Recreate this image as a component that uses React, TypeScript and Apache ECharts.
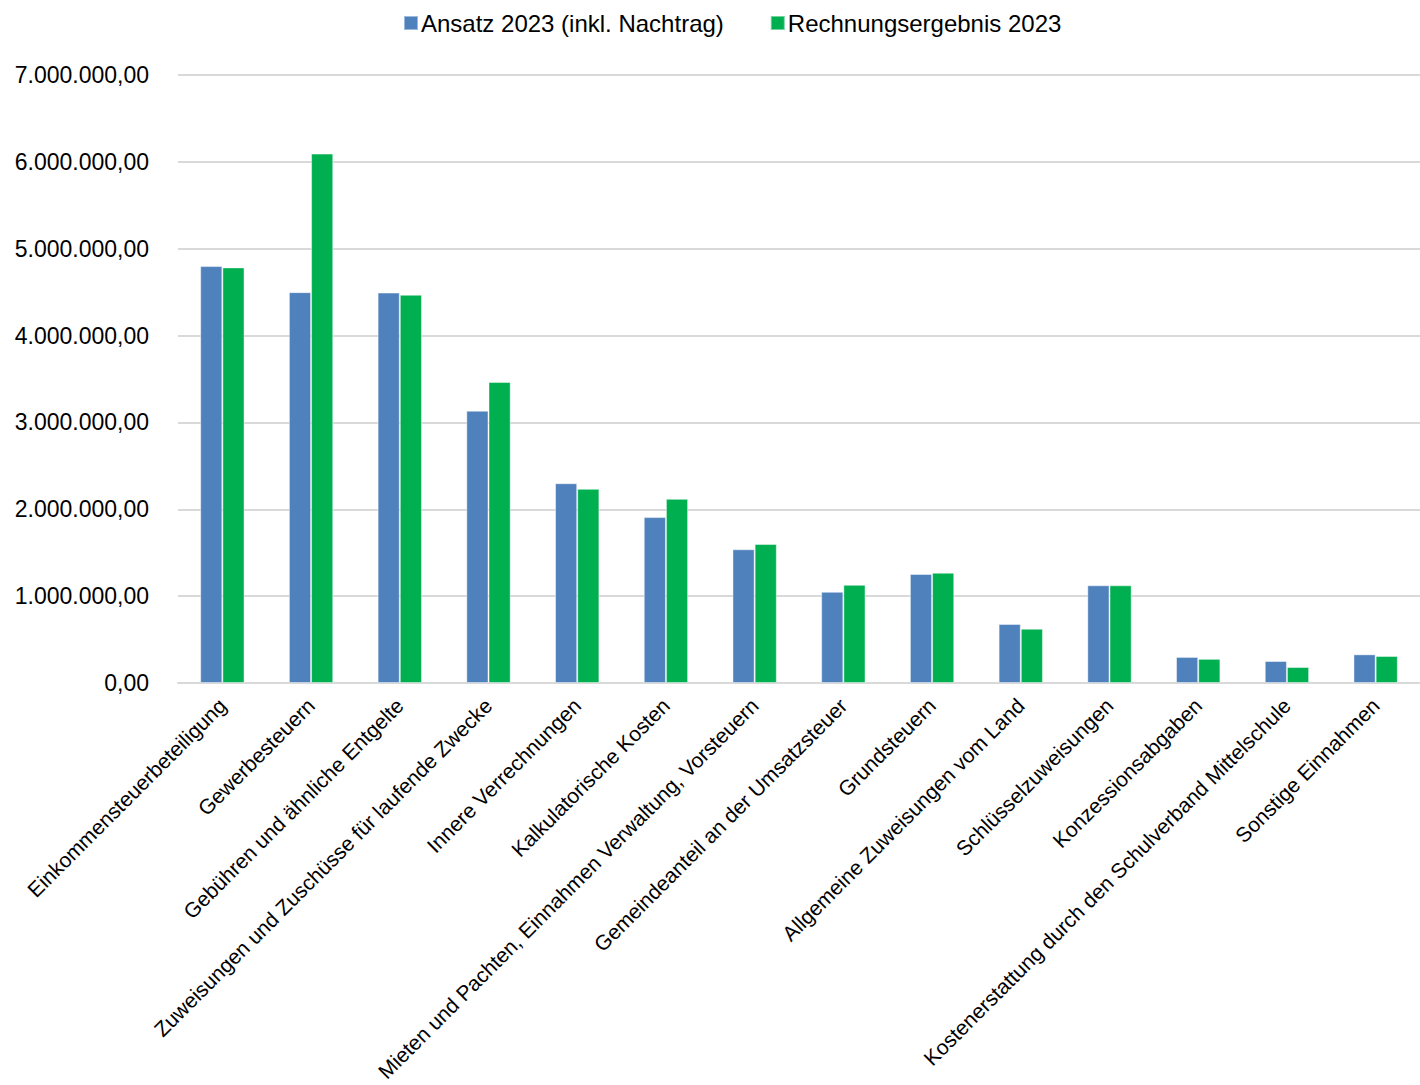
import React, { useEffect, useRef } from "react";
import * as echarts from "echarts";

const categories = [
  "Einkommensteuerbeteiligung",
  "Gewerbesteuern",
  "Gebühren und ähnliche Entgelte",
  "Zuweisungen und Zuschüsse für laufende Zwecke",
  "Innere Verrechnungen",
  "Kalkulatorische Kosten",
  "Mieten und Pachten, Einnahmen Verwaltung, Vorsteuern",
  "Gemeindeanteil an der Umsatzsteuer",
  "Grundsteuern",
  "Allgemeine Zuweisungen vom Land",
  "Schlüsselzuweisungen",
  "Konzessionsabgaben",
  "Kostenerstattung durch den Schulverband Mittelschule",
  "Sonstige Einnahmen",
];

const ansatz2023 = [
  4800000, 4500000, 4495000, 3135000, 2300000, 1910000, 1540000, 1050000,
  1255000, 680000, 1125000, 300000, 253000, 330000,
];

const ergebnis2023 = [
  4785000, 6095000, 4470000, 3465000, 2235000, 2120000, 1600000, 1130000,
  1270000, 625000, 1125000, 278000, 184000, 311000,
];

const seriesNames = ["Ansatz 2023 (inkl. Nachtrag)", "Rechnungsergebnis 2023"];

const FONT = "'Liberation Sans', Arial, Helvetica, sans-serif";

function formatDE(v: number): string {
  const neg = v < 0;
  const abs = Math.abs(v);
  const intPart = Math.floor(abs);
  const frac = Math.round((abs - intPart) * 100);
  const s = String(intPart).replace(/\B(?=(\d{3})+(?!\d))/g, ".");
  return (neg ? "-" : "") + s + "," + String(frac).padStart(2, "0");
}

export default function App() {
  const ref = useRef<HTMLDivElement>(null);
  useEffect(() => {
    if (!ref.current) return;
    const chart = echarts.init(ref.current, null, { renderer: "svg" });
    chart.setOption({
      animation: false,
      backgroundColor: "#ffffff",
      textStyle: { fontFamily: FONT, color: "#000" },
      legend: {
        left: 398,
        top: 6,
        itemWidth: 14,
        itemHeight: 14,
        itemGap: 46,
        icon: "rect",
        textStyle: { fontFamily: FONT, fontSize: 24, color: "#000", padding: [0, 0, 0, -2] },
        data: seriesNames,
      },
      grid: {
        left: 178,
        right: 0,
        top: 75,
        bottom: 402,
        containLabel: false,
        outerBoundsMode: "none",
      },
      xAxis: {
        type: "category",
        data: categories,
        axisLine: { show: true, lineStyle: { color: "#d9d9d9", width: 2 } },
        axisTick: { show: false },
        axisLabel: {
          interval: 0,
          rotate: 45,
          margin: 19,
          fontFamily: FONT,
          fontSize: 21,
          color: "#000",
        },
      },
      yAxis: {
        type: "value",
        min: 0,
        max: 7000000,
        interval: 1000000,
        axisLine: { show: false },
        axisTick: { show: false },
        splitLine: { lineStyle: { color: "#d9d9d9", width: 2 } },
        axisLabel: {
          margin: 29,
          fontFamily: FONT,
          fontSize: 23,
          color: "#000",
          formatter: (v: number) => formatDE(v),
        },
      },
      series: [
        {
          name: seriesNames[0],
          type: "bar",
          data: ansatz2023,
          barGap: "0%",
          barCategoryGap: "50%",
          itemStyle: { color: "#4F81BD", borderColor: "rgba(255,255,255,0.45)", borderWidth: 1 },
        },
        {
          name: seriesNames[1],
          type: "bar",
          data: ergebnis2023,
          barGap: "0%",
          barCategoryGap: "50%",
          itemStyle: { color: "#00B050", borderColor: "rgba(255,255,255,0.45)", borderWidth: 1 },
        },
      ],
    });
    return () => chart.dispose();
  }, []);
  return (
    <div
      ref={ref}
      style={{ position: "fixed", left: 0, top: 0, width: 1420, height: 1085 }}
    />
  );
}
